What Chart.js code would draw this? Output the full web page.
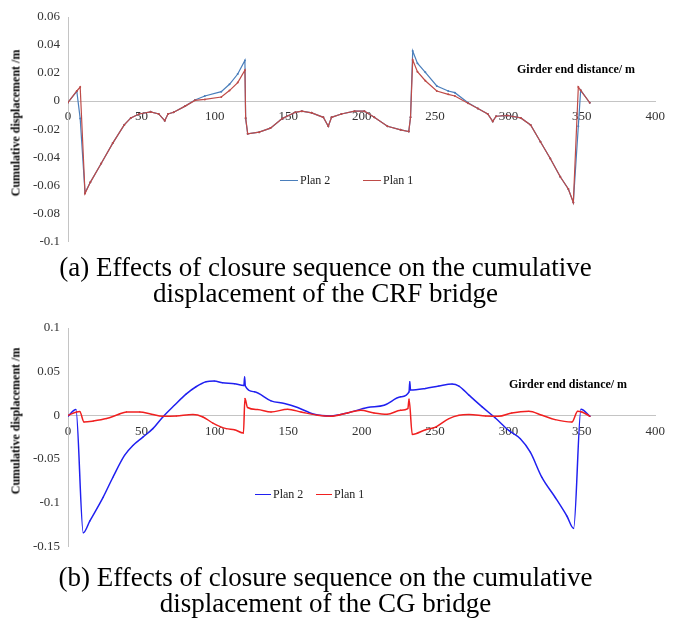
<!DOCTYPE html>
<html>
<head>
<meta charset="utf-8">
<script src="https://cdn.jsdelivr.net/npm/chart.js@4.4.0/dist/chart.umd.min.js"></script>
<style>
  body { margin: 0; background: #fff; }
  #page { position: relative; width: 673px; height: 620px; overflow: hidden; font-family: "Liberation Serif", "Times New Roman", serif; color: #000; }
  .plot { position: absolute; left: 0; display: block; }
  .ytitle { position: absolute; font-weight: bold; font-size: 12px; white-space: nowrap; transform: translate(-50%, -50%) rotate(-90deg); }
  .xtitle { position: absolute; font-weight: bold; font-size: 12px; white-space: nowrap; }
  .legend { position: absolute; font-size: 12px; height: 16px; display: flex; align-items: center; white-space: nowrap; color: #222; }
  .legend .swatch { display: inline-block; width: 18px; height: 0; border-top: 1.3px solid; margin-right: 2px; }
  .caption { position: absolute; left: 0; width: 651px; text-align: center; font-size: 27px; line-height: 26px; }
</style>
</head>
<body>
<div id="page">
  <canvas id="crfChart" class="plot" style="top:0" width="673" height="257"></canvas>
  <div class="ytitle" style="left:16px;top:123px">Cumulative displacement /m</div>
  <div class="xtitle" style="left:517px;top:62px">Girder end distance/ m</div>
  <div class="legend" style="left:280px;top:172px"><span class="swatch" style="border-color:#4a7ebb"></span>Plan 2</div>
  <div class="legend" style="left:363px;top:172px"><span class="swatch" style="border-color:#be4b48"></span>Plan 1</div>
  <div class="caption" style="top:254px">(a) Effects of closure sequence on the cumulative<br>displacement of the CRF bridge</div>

  <canvas id="cgChart" class="plot" style="top:310px" width="673" height="252"></canvas>
  <div class="ytitle" style="left:16px;top:421px">Cumulative displacement /m</div>
  <div class="xtitle" style="left:509px;top:377px">Girder end distance/ m</div>
  <div class="legend" style="left:255px;top:486px"><span class="swatch" style="border-color:#2020f0;width:16px"></span>Plan 2</div>
  <div class="legend" style="left:316px;top:486px"><span class="swatch" style="border-color:#f02020;width:16px"></span>Plan 1</div>
  <div class="caption" style="top:564px">(b) Effects of closure sequence on the cumulative<br>displacement of the CG bridge</div>
</div>

<script>
// ---- (a) CRF bridge ----
const crfDist = [0, 6, 8.3, 11.6, 15.2, 22.6, 30.5, 38.3, 42.8, 48.4, 56.3, 61.8, 65.9, 68.1, 72, 79.8, 86.5, 93.2, 104.4, 110, 115.6, 120.5, 121, 122.4, 130.2, 137.9, 145.9, 154.8, 159.3, 166, 173.9, 177.3, 179.5, 186.2, 195.2, 201.9, 208.6, 217.6, 226.6, 232.1, 233.3, 234.8, 238, 243.4, 251.2, 259, 263.5, 272.5, 279.2, 285.9, 289.3, 291.6, 299.4, 308.4, 315.1, 321.8, 328.5, 335.3, 340.8, 344.2, 347.6, 349.2, 355.4];
const crfPlan2 = [-0.001, 0.007, -0.0125, -0.0655, -0.058, -0.0446, -0.03, -0.017, -0.012, -0.0092, -0.0077, -0.0092, -0.014, -0.0092, -0.008, -0.0036, 0.0008, 0.0036, 0.0067, 0.012, 0.0193, 0.029, -0.0125, -0.0234, -0.0222, -0.0193, -0.0125, -0.008, -0.0072, -0.0084, -0.0116, -0.018, -0.0116, -0.0092, -0.0072, -0.0072, -0.0116, -0.018, -0.0205, -0.0217, -0.0116, 0.0357, 0.027, 0.0205, 0.0108, 0.0072, 0.006, -0.0012, -0.0053, -0.0092, -0.0145, -0.0108, -0.0103, -0.012, -0.017, -0.029, -0.041, -0.054, -0.0627, -0.0723, -0.018, 0.0077, -0.0012];
const crfPlan1 = [-0.001, 0.0072, 0.01, -0.066, -0.058, -0.0446, -0.03, -0.017, -0.012, -0.0092, -0.0077, -0.0092, -0.014, -0.0092, -0.008, -0.0036, 0.0005, 0.0012, 0.0029, 0.0075, 0.0132, 0.022, -0.012, -0.0234, -0.0222, -0.0193, -0.0125, -0.008, -0.0072, -0.0084, -0.0116, -0.018, -0.0116, -0.0092, -0.0072, -0.0072, -0.0116, -0.018, -0.0205, -0.0217, -0.0116, 0.0294, 0.021, 0.0145, 0.0072, 0.0048, 0.0036, -0.0015, -0.0053, -0.0092, -0.0145, -0.0108, -0.0103, -0.012, -0.017, -0.029, -0.041, -0.054, -0.0627, -0.0723, 0.01, 0.0077, -0.0012];

// ---- (b) CG bridge ----
const cgDistPlan2 = [0, 5.4, 10.4, 14.9, 23.9, 30.6, 38.5, 44.2, 51, 57.8, 64.6, 72.5, 80.4, 87.2, 94, 99.6, 105.2, 113.4, 119.8, 120.3, 120.8, 127, 138.3, 147.4, 156.4, 167.7, 179, 190.4, 204, 215.3, 226.6, 232.3, 232.8, 233.3, 243.6, 252.6, 261.6, 266.3, 273.1, 282.1, 291.1, 300.2, 308.1, 314.9, 322.8, 331.9, 339.8, 344.4, 349.4, 355.6];
const cgPlan2 = [-0.001, 0.0066, -0.1346, -0.121, -0.094, -0.071, -0.046, -0.0346, -0.025, -0.0153, -0.0019, 0.0115, 0.0242, 0.0327, 0.0384, 0.0392, 0.0373, 0.0362, 0.034, 0.044, 0.0335, 0.0269, 0.0165, 0.0135, 0.0089, 0.0012, -0.0008, 0.0027, 0.0089, 0.0115, 0.0211, 0.0269, 0.0384, 0.029, 0.0308, 0.0335, 0.0358, 0.0335, 0.0231, 0.0096, -0.0031, -0.0173, -0.0269, -0.0423, -0.0712, -0.0942, -0.1154, -0.1296, 0.0069, -0.0012];
const cgDistPlan1 = [0, 5.9, 8, 10.9, 17.2, 26.2, 34.1, 39.8, 48.9, 56.8, 64.6, 73.8, 85.1, 91.9, 98.7, 107.8, 113.4, 119.5, 120.5, 122.3, 129.1, 138.3, 149.6, 158.7, 170, 179, 190.4, 199.4, 208.4, 217.5, 226.6, 231.5, 232.3, 234.5, 243.6, 250.4, 259.5, 266.3, 273.1, 284.5, 293.3, 302.3, 313.9, 322.9, 331.9, 343.2, 347.2, 350, 355.6];
const cgPlan1 = [0, 0.0038, 0.0042, -0.0077, -0.0066, -0.0038, 0.0008, 0.0038, 0.0038, 0.0012, -0.0012, -0.0008, 0.0008, -0.0019, -0.0089, -0.0153, -0.0165, -0.0204, 0.0192, 0.0089, 0.0066, 0.0038, 0.0069, 0.0038, 0, -0.0012, 0.0027, 0.0058, 0.0027, 0.0012, 0.0058, 0.0077, 0.0185, -0.0219, -0.0165, -0.0135, -0.0038, 0, 0.0008, -0.0008, -0.0012, 0.0027, 0.0046, 0, -0.005, -0.0077, 0.0046, 0.0038, -0.0012];

const xTicks = { min: 0, max: 400, step: 50 };

Chart.defaults.font.family = '"Liberation Serif", "Times New Roman", serif';
Chart.defaults.animation = false;

function toPoints(xs, ys) {
  return xs.map((x, i) => ({ x: x, y: ys[i] }));
}

function lineSet(label, xs, ys, color, width, radius, order, smooth) {
  return {
    label: label,
    data: toPoints(xs, ys),
    borderColor: color,
    backgroundColor: color,
    borderWidth: width,
    pointRadius: radius,
    pointBorderWidth: 0,
    tension: smooth ? 0.4 : 0,
    cubicInterpolationMode: smooth ? 'monotone' : 'default',
    order: order
  };
}

// excel style numbers: 0.1 not 0.10
const fmt = (v) => String(parseFloat(Number(v).toFixed(4)));

function makeChart(id, datasets, yMin, yMax, yStep, pad) {
  return new Chart(document.getElementById(id), {
    type: 'line',
    data: { datasets: datasets },
    options: {
      responsive: false,
      layout: { padding: pad, autoPadding: false },
      plugins: { legend: { display: false }, tooltip: { enabled: false } },
      scales: {
        x: {
          type: 'linear',
          position: { y: 0 },
          min: xTicks.min, max: xTicks.max,
          grid: { display: false, drawTicks: false },
          border: { display: true, color: '#c4c4c4', width: 1 },
          ticks: { stepSize: xTicks.step, padding: 8, color: '#333', font: { size: 13 }, maxRotation: 0, callback: fmt },
          // axis sits on y = 0, so it should not take room below the plot
          afterFit: (scale) => { scale.height = 0; }
        },
        y: {
          min: yMin, max: yMax,
          grid: { display: false, drawTicks: false },
          border: { display: true, color: '#c4c4c4', width: 1 },
          ticks: { stepSize: yStep, padding: 8, color: '#333', font: { size: 13 }, callback: fmt },
          afterFit: (scale) => { scale.width = 68; }
        }
      }
    }
  });
}

makeChart('crfChart', [
  lineSet('Plan 2', crfDist, crfPlan2, '#4a7ebb', 1.2, 1, 1, false),
  lineSet('Plan 1', crfDist, crfPlan1, '#be4b48', 1.2, 1, 0, false)
], -0.1, 0.06, 0.02, { top: 17, right: 11, bottom: 10, left: 0 });

makeChart('cgChart', [
  lineSet('Plan 2', cgDistPlan2, cgPlan2, '#2020f0', 1.5, 0.6, 1, true),
  lineSet('Plan 1', cgDistPlan1, cgPlan1, '#f02020', 1.5, 0.6, 0, true)
], -0.15, 0.1, 0.05, { top: 18, right: 16, bottom: 9, left: 0 });
</script>
</body>
</html>
